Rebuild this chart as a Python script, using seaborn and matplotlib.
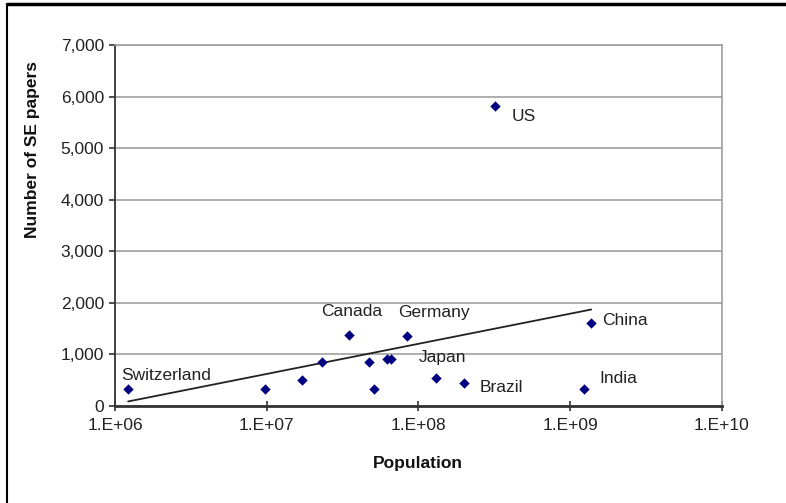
import numpy as np
import pandas as pd
import seaborn as sns
import matplotlib.pyplot as plt
from matplotlib.lines import Line2D
from matplotlib.ticker import FixedLocator, FuncFormatter, NullLocator

# data (population, number of SE papers)
population = [1.22e6, 9.8e6, 1.7e7, 2.3e7, 3.5e7, 4.7e7, 5.1e7, 6.2e7, 6.6e7,
              8.4e7, 1.3e8, 2.0e8, 3.2e8, 1.38e9, 1.23e9]
papers = [330, 330, 500, 850, 1380, 850, 330, 910, 910,
          1360, 540, 450, 5820, 1610, 330]
country = ['Switzerland', '', '', '', 'Canada', '', '', '', '',
           'Germany', 'Japan', 'Brazil', 'US', 'China', 'India']

# label offsets in pixels (dx, dy, ha)
label_offsets = {
    'Switzerland': (-7, 14, 'left'),
    'Canada': (2, 23, 'center'),
    'Germany': (27, 23, 'center'),
    'Japan': (7, 21, 'center'),
    'Brazil': (16, -5, 'left'),
    'US': (17, -11, 'left'),
    'China': (11, 2, 'left'),
    'India': (16, 11, 'left'),
}

df = pd.DataFrame({'population': population, 'papers': papers, 'country': country})

# logarithmic trendline (like Excel): papers = a*log10(pop) + b
a, b = np.polyfit(np.log10(df['population']), df['papers'], 1)
xs = np.array([df['population'].min(), df['population'].max()])
trend = pd.DataFrame({'population': xs, 'papers': a * np.log10(xs) + b})

sns.set_style('white')
plt.rcParams['font.family'] = ['Liberation Sans', 'DejaVu Sans']

fig = plt.figure(figsize=(7.86, 5.03), dpi=100)
ax = fig.add_axes([0.1463, 0.1928, 0.7719, 0.7177])

ax.set_xscale('log')
ax.set_xlim(1e6, 1e10)
ax.set_ylim(0, 7000)
ax.set_yticks(range(0, 7001, 1000))
ax.yaxis.grid(True, color='#a0a0a0', linewidth=1.2)
ax.set_axisbelow(True)

sns.lineplot(data=trend, x='population', y='papers', color='#222222',
             linewidth=1.3, ax=ax)
sns.scatterplot(data=df, x='population', y='papers', marker='D', s=28,
                color='#000080', edgecolor='#000080', linewidth=0, ax=ax, zorder=3)

for _, r in df.iterrows():
    if r['country'] == '':
        continue
    dx, dy, ha = label_offsets[r['country']]
    ax.annotate(r['country'], (r['population'], r['papers']),
                xytext=(dx, dy), textcoords='offset pixels',
                ha=ha, va='center', fontsize=12.5, color='#222222')

ax.xaxis.set_major_locator(FixedLocator([1e6, 1e7, 1e8, 1e9, 1e10]))
ax.xaxis.set_minor_locator(NullLocator())
ax.xaxis.set_major_formatter(FuncFormatter(lambda v, p: '1.E+%02d' % int(round(np.log10(v)))))
ax.yaxis.set_major_formatter(FuncFormatter(lambda v, p: f'{int(v):,}'))

ax.tick_params(axis='x', direction='inout', length=7, width=1.2, color='#333333',
               labelsize=12.5, pad=5, labelcolor='#222222', bottom=True)
ax.tick_params(axis='y', direction='out', length=4, width=1.2, color='#333333',
               labelsize=12.5, pad=4, labelcolor='#222222', left=True)

for s in ['top', 'right']:
    ax.spines[s].set_color('#a0a0a0')
    ax.spines[s].set_linewidth(1.2)
ax.spines['left'].set_color('#333333')
ax.spines['left'].set_linewidth(1.3)
ax.spines['bottom'].set_color('#333333')
ax.spines['bottom'].set_linewidth(2)

ax.set_xlabel('Population', fontsize=12.5, fontweight='bold', color='#111111', labelpad=17)
ax.set_ylabel('Number of SE papers', fontsize=12.5, fontweight='bold', color='#111111')
ax.yaxis.set_label_coords(-0.124, 0.71)

# outer frame lines (top and left)
fig.add_artist(Line2D([7 / 786, 1], [1 - 4 / 503, 1 - 4 / 503], transform=fig.transFigure,
                      color='black', linewidth=2.5))
fig.add_artist(Line2D([7 / 786, 7 / 786], [0, 1 - 4 / 503], transform=fig.transFigure,
                      color='black', linewidth=1.5))

fig.savefig('out.png', dpi=100)
